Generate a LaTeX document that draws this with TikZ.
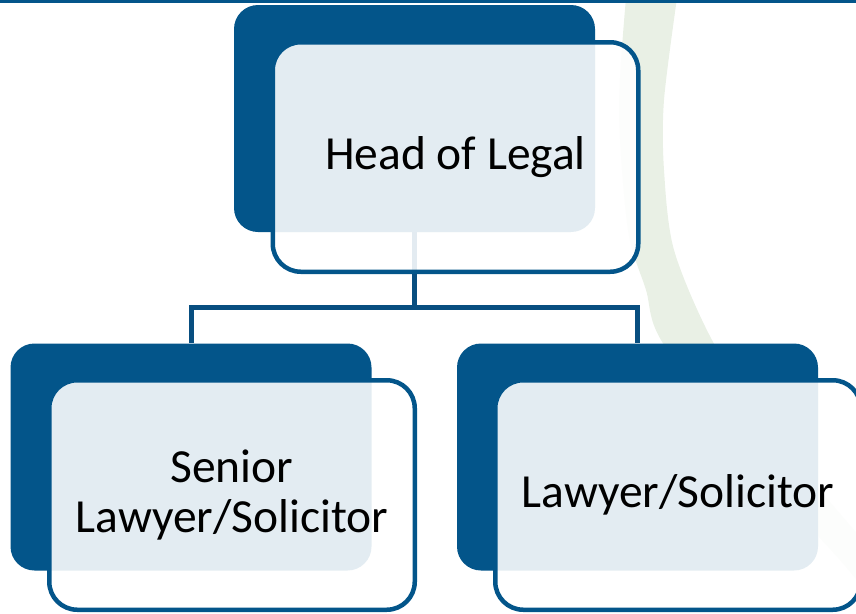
\documentclass[tikz,border=0pt]{standalone}
\usepackage{fontspec}
\setmainfont{Carlito}
\definecolor{legalblue}{HTML}{03558A}
\definecolor{linkblue}{HTML}{084E80}
\definecolor{leafgreen}{HTML}{E9F0E5}
\tikzset{
  backbox/.style={rectangle, rounded corners=24pt, fill=legalblue, minimum width=361pt, minimum height=227pt, inner sep=0pt},
  frontbox/.style={rectangle, rounded corners=28pt, draw=legalblue, line width=4.5pt, fill=white, fill opacity=0.89, text opacity=1, minimum width=365.5pt, minimum height=229.5pt, inner sep=0pt, align=center, font=\fontsize{47.5}{50}\selectfont},
  link/.style={draw=linkblue, line width=5pt}
}

\begin{document}
\begin{tikzpicture}[x=1pt, y=-1pt]
  \useasboundingbox (0,0) rectangle (856,613);
  \clip (0,0) rectangle (856,613);
  \fill[leafgreen] plot[smooth] coordinates {(626,-2) (619,110) (628,230) (646,290) (661,340) (740,450) (840,560) (880,610)}
    -- (930,610) -- plot[smooth] coordinates {(880,560) (770,430) (712,340) (674,250) (664,170) (664,100) (677,-2)} -- cycle;
  \fill[legalblue] (0,0) rectangle (856,3);

  \node[backbox] (headback) at (414.5,118.5) {};
  \node[backbox] (seniorback) at (191,457) {};
  \node[backbox] (lawyerback) at (637.5,457) {};

  \path[link] (headback.south) -- ++(0,75) -| (seniorback.north);
  \path[link] (headback.south) -- ++(0,75) -| (lawyerback.north);

  \node[frontbox] (head) at (455.5,157) {Head of Legal};
  \node[frontbox] (senior) at (232,495) {Senior\\Lawyer/Solicitor};
  \node[frontbox] (lawyer) at (678,495) {Lawyer/Solicitor};
\end{tikzpicture}
\end{document}
